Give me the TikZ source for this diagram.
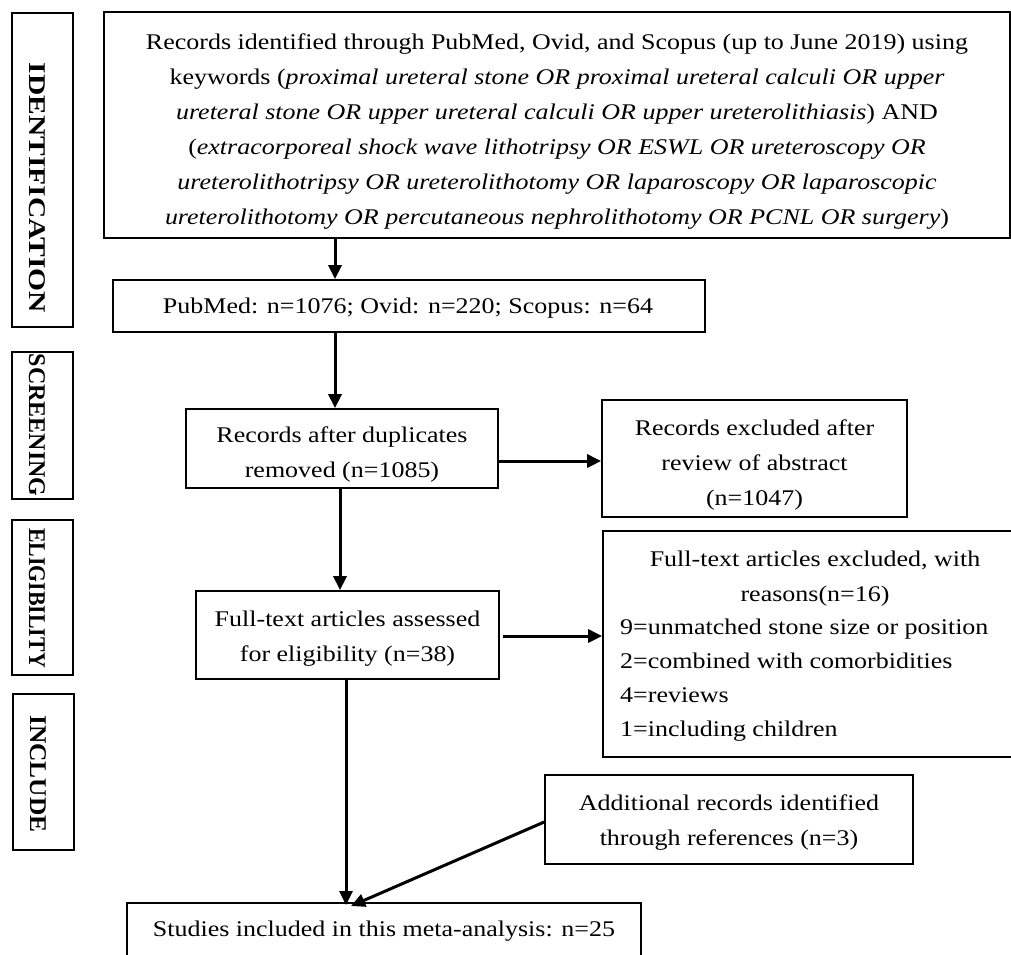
\documentclass[tikz,border=0pt]{standalone}
\usepackage{fontspec}
\setmainfont{Liberation Serif}[FakeStretch=1.16]
\newfontfamily\stagefont{Liberation Serif}
\usetikzlibrary{arrows.meta}
\begin{document}
\begin{tikzpicture}[x=1pt,y=-1pt,
  box/.style={draw, line width=1.7pt, inner sep=0pt},
  txt/.style={inner sep=0pt, align=center, font=\fontsize{22.4}{35}\selectfont},
  lst/.style={inner sep=0pt, align=left, font=\fontsize{22.4}{34.2}\selectfont},
  stagetext/.style={rotate=-90, inner sep=0pt,
    font=\stagefont\bfseries\fontsize{24}{28}\selectfont},
  arr/.style={line width=3pt, -{Triangle[length=14pt,width=13pt]}},
]
\clip (0,0) rectangle (1011,954);
\fill[white] (0,0) rectangle (1011,954);

% stage labels on the left
\node[box, minimum width=61pt, minimum height=314pt] (sid) at (42.5,170) {};
\node[stagetext] (tid) at (37,188) {\scalebox{1.23}[1]{IDENTIFICATION}};
\node[box, minimum width=61pt, minimum height=147pt] (ssc) at (42.5,425.5) {};
\node[stagetext] (tsc) at (37,425) {SCREENING};
\node[box, minimum width=61pt, minimum height=155pt] (sel) at (42.5,597.5) {};
\node[stagetext] (tel) at (37,598) {\scalebox{0.91}[1]{ELIGIBILITY}};
\node[box, minimum width=61pt, minimum height=156pt] (sin) at (43.5,772) {};
\node[stagetext] (tin) at (38,774) {\scalebox{1.06}[1]{INCLUDE}};

% flow boxes
\node[box, minimum width=906pt, minimum height=226pt] (ident) at (557,125) {};
\node[txt] (identtext) at (557,132)
  {Records identified through PubMed, Ovid, and Scopus (up to June 2019) using\\
   keywords (\textit{proximal ureteral stone OR proximal ureteral calculi OR upper}\\
   \textit{ureteral stone OR upper ureteral calculi OR upper ureterolithiasis}) AND\\
   (\textit{extracorporeal shock wave lithotripsy OR ESWL OR ureteroscopy OR}\\
   \textit{ureterolithotripsy OR ureterolithotomy OR laparoscopy OR laparoscopic}\\
   \textit{ureterolithotomy OR percutaneous nephrolithotomy OR PCNL OR surgery})};

\node[box, minimum width=592pt, minimum height=52pt] (pub) at (409,306) {};
\node[txt] (pubtext) at (408,308) {PubMed: n=1076; Ovid: n=220; Scopus: n=64};

\node[box, minimum width=312pt, minimum height=79pt] (rec) at (342,448.5) {};
\node[txt] (rectext) at (342,454) {Records after duplicates\\ removed (n=1085)};

\node[box, minimum width=305pt, minimum height=117pt] (excl) at (754.5,458.5) {};
\node[txt] (excltext) at (754.5,464.5)
  {Records excluded after\\ review of abstract\\ (n=1047)};

\node[box, minimum width=303pt, minimum height=88pt] (full) at (347.5,635) {};
\node[txt] (fulltext) at (347.5,638.5)
  {Full-text articles assessed\\ for eligibility (n=38)};

\node[box, minimum width=427pt, minimum height=226pt] (rsn) at (816.5,644) {};
\node[txt] (rsnhead) at (815,578.5)
  {Full-text articles excluded, with\\ reasons(n=16)};
\node[lst, anchor=west] (rsnlist) at (620,680)
  {9=unmatched stone size or position\\ 2=combined with comorbidities\\
   4=reviews\\ 1=including children};

\node[box, minimum width=368pt, minimum height=89pt] (add) at (729,819.5) {};
\node[txt] (addtext) at (729,823)
  {Additional records identified\\ through references (n=3)};

\node[box, minimum width=514pt, minimum height=90pt, anchor=north] (stud) at (384,902) {};
\node[txt] (studtext) at (384,931) {Studies included in this meta-analysis: n=25};

% connector guides
\coordinate (c1) at (335,0);
\coordinate (c2) at (340,0);
\coordinate (c3) at (346,0);
\coordinate (c4) at (0,461);
\coordinate (c5) at (0,636);
\coordinate (c6) at (351,0);

\draw[arr] (ident.south -| c1) -- (pub.north -| c1);
\draw[arr] (pub.south -| c1) -- (rec.north -| c1);
\draw[arr] (rec.east |- c4) -- (excl.west |- c4);
\draw[arr] (rec.south -| c2) -- (full.north -| c2);
\draw[arr] ([xshift=3pt]full.east |- c5) -- (rsn.west |- c5);
\draw[arr] ([yshift=2pt]full.south -| c3) -- ([yshift=-3pt]stud.north -| c3);
\draw[arr] ([yshift=-2.5pt]add.west) -- ([yshift=-4pt]stud.north -| c6);
\end{tikzpicture}
\end{document}
